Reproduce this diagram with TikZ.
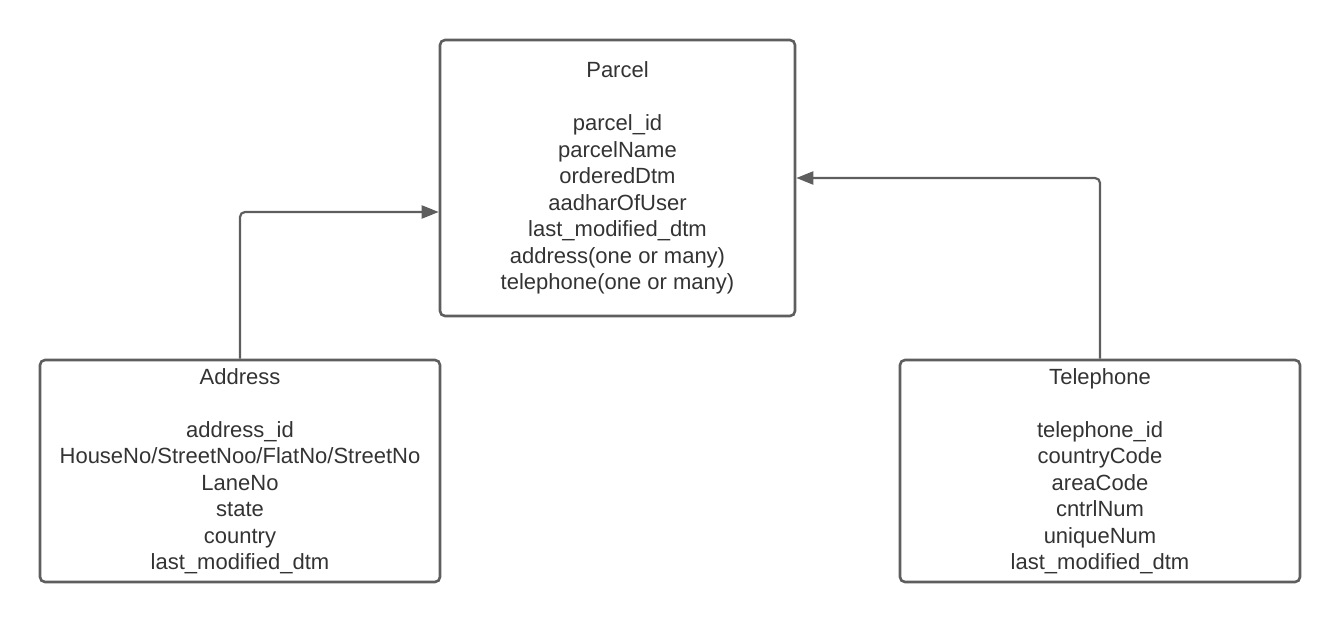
\documentclass[tikz,border=0pt]{standalone}
\usepackage{fontspec}
\setmainfont{Liberation Sans}
\usetikzlibrary{arrows.meta}
\usetikzlibrary{calc}
\definecolor{edgegray}{HTML}{5E5E5E}
\definecolor{textgray}{HTML}{333333}

\begin{document}
\begin{tikzpicture}[x=1pt, y=-1pt,
    entity/.style={draw=edgegray, line width=2.6pt, rounded corners=5pt,
      align=center, text=textgray, inner sep=0pt,
      font=\fontsize{22}{26.5}\selectfont},
    link/.style={draw=edgegray, line width=2.2pt, rounded corners=5pt,
      -{Triangle[length=17pt, width=13pt]}}]
  \useasboundingbox (0,0) rectangle (1340,623);
  \node[entity, minimum width=355pt, minimum height=276pt] (parcel) at (617.5,178)
    {Parcel\\[26.5pt] parcel\_id\\ parcelName\\ orderedDtm\\ aadharOfUser\\
     last\_modified\_dtm\\ address(one or many)\\ telephone(one or many)};
  \node[entity, minimum width=400pt, minimum height=222pt] (address) at (240,471)
    {Address\\[26.5pt] address\_id\\ HouseNo/StreetNoo/FlatNo/StreetNo\\ LaneNo\\
     state\\ country\\ last\_modified\_dtm};
  \node[entity, minimum width=400pt, minimum height=222pt] (telephone) at (1100,471)
    {Telephone\\[26.5pt] telephone\_id\\ countryCode\\ areaCode\\ cntrlNum\\
     uniqueNum\\ last\_modified\_dtm};
  \coordinate (parcelin) at ($(parcel.west)+(0,34)$);
  \draw[link] (address.north) |- (parcelin);
  \draw[link] (telephone.north) |- (parcel.east);
\end{tikzpicture}
\end{document}
